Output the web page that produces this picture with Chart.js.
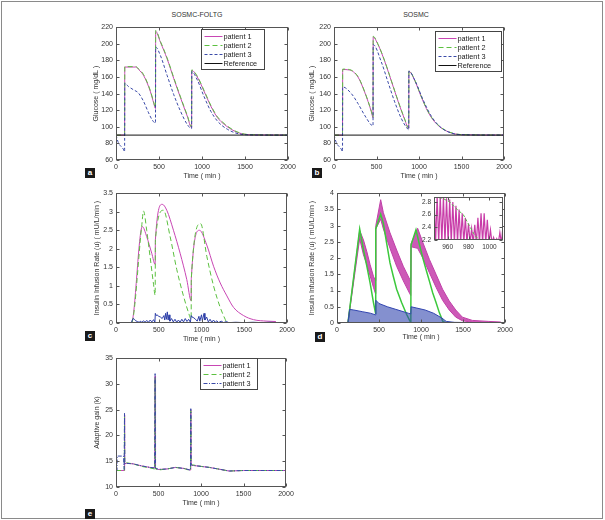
<!DOCTYPE html>
<html>
<head>
<meta charset="utf-8">
<script src="https://cdn.jsdelivr.net/npm/chart.js@4.4.1/dist/chart.umd.min.js"></script>
<style>
  html, body { margin: 0; padding: 0; background: #fff; }
  #fig { position: relative; width: 605px; height: 520px; overflow: hidden; font-family: "Liberation Sans", Arial, sans-serif; }
  #frame { position: absolute; left: 1px; top: 1px; width: 602px; height: 518px; box-sizing: border-box; border: 1px solid #8a8a8a; }
  canvas { position: absolute; }
  .title { position: absolute; font-size: 7px; color: #333; transform: translateX(-50%); white-space: nowrap; }
  .tag { position: absolute; width: 10px; height: 10px; background: #1a1a1a; color: #fff; font-size: 8px; font-weight: bold; line-height: 10px; text-align: center; }
</style>
</head>
<body>
<div id="fig">
  <div id="frame"></div>
  <div class="title" style="left:197px;top:11px">SOSMC-FOLTG</div>
  <div class="title" style="left:416px;top:11px">SOSMC</div>
  <canvas id="chartA" width="208" height="160" style="left:92px;top:20px"></canvas>
  <canvas id="chartB" width="208" height="160" style="left:308px;top:20px"></canvas>
  <canvas id="chartC" width="206" height="157" style="left:93px;top:186px"></canvas>
  <canvas id="chartD" width="209" height="155" style="left:308px;top:186px"></canvas>
  <canvas id="chartInset" width="89" height="60" style="left:418px;top:190px"></canvas>
  <canvas id="chartE" width="205" height="156" style="left:93px;top:351px"></canvas>
  <div class="tag" style="left:85px;top:168px">a</div>
  <div class="tag" style="left:312px;top:168px">b</div>
  <div class="tag" style="left:85px;top:331px">c</div>
  <div class="tag" style="left:315px;top:332px">d</div>
  <div class="tag" style="left:85px;top:509px">e</div>
</div>
<script>
// ---- tick labels ----
const timeTicks = [0, 500, 1000, 1500, 2000];
const glucoseTicks = [60, 80, 100, 120, 140, 160, 180, 200, 220];
const insulinTicksC = [0, 0.5, 1, 1.5, 2, 2.5, 3, 3.5];
const insulinTicksD = [0, 0.5, 1, 1.5, 2, 2.5, 3, 3.5, 4];
const gainTicks = [10, 15, 20, 25, 30, 35];
const insetTimeTicks = [960, 980, 1000];
const insetRateTicks = [2.2, 2.4, 2.6, 2.8];

// ---- reference glucose ----
const refTime = [0, 2000];
const reference = [90, 90];

// ---- panel a: glucose, SOSMC-FOLTG ----
const aTime12 = [0, 100, 102, 230, 262, 320, 398, 440, 459, 461, 516, 594, 672, 750, 828, 879, 881, 945, 1023, 1102, 1180, 1258, 1375, 1492, 1600, 2000];
const aPatient1 = [90, 90, 172, 172, 169, 162, 143, 128, 122, 215, 202, 182, 158, 135, 113, 99, 168, 160, 143, 125, 111, 103, 95, 91, 90.3, 90];
const aPatient2 = [90, 90, 172.5, 172.5, 170, 163, 144, 129, 123, 216, 203, 183, 159, 136, 114, 100, 168.5, 161, 144, 126, 112, 104, 95.5, 91.3, 90.5, 90];
const aTime3 = [0, 27, 86, 100, 102, 145, 203, 262, 320, 379, 418, 459, 461, 516, 594, 672, 750, 828, 879, 881, 945, 1023, 1102, 1180, 1297, 1453, 1600, 2000];
const aPatient3 = [90, 81, 73, 70, 152.5, 148.5, 144.6, 140.6, 130.7, 116.8, 108.8, 104.5, 196, 186, 162, 138.6, 118.8, 102.9, 97.8, 166.4, 156.5, 136.6, 118.8, 106.8, 96.9, 91, 90.2, 90];

// ---- panel b: glucose, SOSMC ----
const bTime12 = [0, 100, 102, 180, 282, 360, 440, 459, 461, 518, 596, 675, 753, 831, 879, 881, 949, 1027, 1106, 1184, 1302, 1498, 2000];
const bPatient1 = [90, 90, 169, 168.5, 160, 142, 118, 111, 208, 199, 179, 155, 131, 109, 98, 167, 156, 136, 118, 106, 96, 90.5, 90];
const bPatient2 = [90, 90, 169.5, 169, 160.5, 142.5, 118.5, 111.5, 209, 199.5, 179.5, 155.5, 131.5, 109.5, 98.5, 167.5, 156.5, 136.5, 118.5, 106.5, 96.3, 90.6, 90];
const bTime3 = [0, 27, 86, 100, 102, 204, 282, 360, 440, 459, 461, 557, 635, 714, 792, 870, 879, 881, 960, 1050, 1150, 1260, 1380, 1500, 2000];
const bPatient3 = [90, 81, 73, 70, 148, 140, 128, 114, 102, 101, 199, 178, 154, 130, 110, 97, 96.5, 167, 154, 132, 112, 99, 92.5, 90.5, 90];

// ---- panel c: insulin infusion rate, SOSMC-FOLTG ----
const cTime1 = [0, 180, 308, 359, 418, 458, 461, 541, 594, 672, 750, 828, 879, 881, 977, 1062, 1141, 1219, 1297, 1375, 1492, 1609, 1766, 1870];
const cPatient1 = [0, 0, 2.6, 2.33, 1.88, 1.58, 2.25, 3.2, 3.04, 2.5, 1.88, 1.17, 0.6, 1.2, 2.5, 2.1, 1.53, 1.08, 0.73, 0.42, 0.2, 0.09, 0.05, 0.04];
const cTime2 = [0, 180, 300, 322, 359, 398, 437, 458, 461, 555, 633, 711, 789, 848, 879, 881, 990, 1062, 1141, 1219, 1277, 1300, 2000];
const cPatient2 = [0, 0, 2.6, 3.02, 2.5, 1.8, 1.08, 0.75, 2.25, 3.04, 2.33, 1.44, 0.73, 0.28, 0.1, 1.2, 2.68, 1.8, 1.0, 0.42, 0.1, 0, 0];
const cTime3 = [0, 180, 190, 200, 215, 230, 250, 270, 290, 300, 320, 340, 360, 380, 400, 420, 440, 455, 460, 470, 480, 500, 520, 540, 560, 570, 580, 590, 600, 610, 620, 630, 650, 670, 690, 710, 730, 750, 770, 790, 810, 830, 850, 870, 880, 890, 910, 930, 950, 970, 980, 1000, 1010, 1030, 1040, 1060, 1080, 1100, 1120, 1140, 1160, 1180, 1200, 1230, 1260, 1290, 1320, 1400, 1500, 1600, 1700, 1800, 2000];
const cPatient3 = [0, 0, 0.08, 0.12, 0.1, 0.06, 0.04, 0.02, 0.05, 0.01, 0.06, 0.02, 0.07, 0.02, 0.08, 0.03, 0.09, 0.02, 0.26, 0.2, 0.22, 0.18, 0.16, 0.12, 0.2, 0.08, 0.26, 0.1, 0.3, 0.08, 0.22, 0.05, 0.12, 0.03, 0.1, 0.02, 0.08, 0.02, 0.1, 0.03, 0.12, 0.04, 0.1, 0.02, 0.2, 0.16, 0.14, 0.1, 0.05, 0.18, 0.05, 0.22, 0.06, 0.26, 0.08, 0.16, 0.03, 0.1, 0.02, 0.08, 0.02, 0.06, 0.01, 0.05, 0.01, 0.04, 0.01, 0.02, 0.01, 0.02, 0.01, 0.02, 0];

// ---- panel d: insulin infusion rate, SOSMC (chattering bands) ----
const dTime1 = [0, 130, 270, 315, 355, 394, 434, 458, 462, 520, 552, 631, 710, 789, 867, 878, 882, 960, 1022, 1100, 1179, 1257, 1336, 1414, 1493, 1611, 1800, 1950];
const dPatient1High = [0, 0, 2.85, 2.56, 2.2, 1.8, 1.44, 1.3, 3.0, 3.8, 3.4, 2.78, 2.25, 1.75, 1.34, 1.28, 2.45, 2.92, 2.48, 1.96, 1.5, 1.04, 0.68, 0.4, 0.18, 0.08, 0.05, 0.03];
const dPatient1Low = [0, 0, 2.6, 2.1, 1.8, 1.45, 1.1, 0.9, 2.9, 3.2, 2.9, 2.3, 1.75, 1.3, 0.9, 0.85, 2.35, 2.3, 2.0, 1.55, 1.1, 0.7, 0.4, 0.18, 0.07, 0.02, 0, 0];
const dTime2 = [0, 130, 270, 315, 355, 394, 434, 459, 461, 520, 552, 591, 631, 670, 710, 769, 828, 870, 879, 881, 940, 983, 1022, 1061, 1100, 1139, 1179, 1218, 1260, 1300, 2000];
const dPatient2 = [0, 0, 2.9, 2.25, 1.75, 1.24, 0.63, 0.3, 2.9, 3.35, 3.07, 2.46, 1.85, 1.44, 1.04, 0.63, 0.27, 0.05, 0.03, 2.4, 2.87, 2.4, 2.0, 1.64, 1.29, 0.93, 0.63, 0.32, 0.05, 0, 0];
const dTime3 = [0, 130, 150, 200, 300, 400, 458, 462, 500, 600, 700, 850, 878, 882, 950, 1050, 1150, 1250, 1300, 1400, 2000];
const dPatient3High = [0, 0, 0.42, 0.4, 0.35, 0.3, 0.25, 0.7, 0.6, 0.5, 0.42, 0.3, 0.28, 0.5, 0.46, 0.4, 0.3, 0.15, 0.05, 0.02, 0];
const dPatient3Low = [0, 0, 0, 0, 0, 0, 0, 0, 0, 0, 0, 0, 0, 0, 0, 0, 0, 0, 0, 0, 0];

// ---- inset of panel d ----
const insetTime = [947, 948.5, 950, 951.5, 953, 954.5, 956, 957.5, 959, 960.5, 962, 963.5, 965, 966.5, 968, 969.5, 971, 972.5, 974, 975.5, 977, 978.5, 980, 981.5, 983, 984.5, 986, 987.5, 989, 990.5, 992, 993.5, 995, 996.5, 998, 999.5, 1001, 1002.5, 1004, 1005.5, 1007, 1008.5, 1010, 1011.5, 1013];
const insetPatient1 = [2.9, 2.15, 2.9, 2.15, 2.9, 2.15, 2.88, 2.15, 2.86, 2.15, 2.84, 2.15, 2.8, 2.15, 2.74, 2.15, 2.68, 2.15, 2.62, 2.15, 2.55, 2.15, 2.46, 2.15, 2.38, 2.15, 2.44, 2.15, 2.55, 2.15, 2.62, 2.15, 2.62, 2.15, 2.52, 2.15, 2.36, 2.15, 2.24, 2.15, 2.22, 2.15, 2.32, 2.15, 2.42];
const insetTime2 = [947, 955, 962, 968, 975, 980, 985, 990];
const insetPatient2 = [2.88, 2.86, 2.8, 2.7, 2.6, 2.45, 2.3, 2.2];

// ---- panel e: adaptive gain ----
const eTime12 = [0, 98, 100, 103, 120, 200, 300, 400, 455, 460, 465, 500, 600, 700, 800, 870, 876, 880, 884, 900, 1000, 1100, 1200, 1330, 1500, 2000];
const ePatient1 = [13.2, 13.2, 24, 14.5, 14.6, 14.5, 14.1, 13.8, 13.7, 31.5, 13.6, 13.4, 13.5, 13.8, 13.6, 13.3, 13.3, 25, 14.3, 14.2, 14.0, 13.8, 13.5, 13.1, 13.2, 13.2];
const ePatient2 = [13.2, 13.2, 23.8, 14.6, 14.7, 14.5, 14.0, 13.7, 13.5, 31.2, 13.5, 13.3, 13.5, 13.8, 13.6, 13.2, 13.2, 24.8, 14.4, 14.3, 14.0, 13.8, 13.5, 13.1, 13.2, 13.2];
const eTime3 = [0, 12, 14, 88, 96, 100, 103, 120, 200, 300, 400, 455, 460, 465, 500, 600, 700, 800, 870, 876, 880, 884, 900, 1000, 1100, 1200, 1330, 1500, 2000];
const ePatient3 = [13.2, 13.2, 16, 16, 13.4, 24.3, 14.5, 14.6, 14.5, 14.1, 13.8, 13.7, 32, 13.7, 13.4, 13.5, 13.8, 13.6, 13.3, 13.3, 25.2, 14.3, 14.2, 14.0, 13.8, 13.5, 13.1, 13.2, 13.2];

// colours
const MAGENTA = "#c846b4";
const GREEN = "#5cc040";
const BLUE = "#3a4aa8";
const BLACK = "#111111";

Chart.defaults.font.family = '"Liberation Sans", Arial, sans-serif';
Chart.defaults.font.size = 7;
Chart.defaults.color = "#333";
Chart.defaults.animation = false;

// matlab style box with inward ticks on all four sides
const boxAxes = {
  id: "boxAxes",
  beforeDatasetsDraw(chart, args, opts) {
    if (!opts.fillWhite) return;
    const a = chart.chartArea;
    chart.ctx.save();
    chart.ctx.fillStyle = "#fff";
    chart.ctx.fillRect(a.left, a.top, a.right - a.left, a.bottom - a.top);
    chart.ctx.restore();
  },
  afterDatasetsDraw(chart) {
    const { ctx, chartArea: a, scales } = chart;
    const len = 3;
    ctx.save();
    ctx.strokeStyle = "#555";
    ctx.lineWidth = 1;
    ctx.setLineDash([]);
    const L = Math.round(a.left) + 0.5, R = Math.round(a.right) - 0.5;
    const T = Math.round(a.top) + 0.5, B = Math.round(a.bottom) - 0.5;
    ctx.strokeRect(L, T, R - L, B - T);
    ctx.beginPath();
    scales.x.ticks.forEach((t) => {
      const px = Math.round(scales.x.getPixelForValue(t.value)) + 0.5;
      ctx.moveTo(px, B); ctx.lineTo(px, B - len);
      ctx.moveTo(px, T); ctx.lineTo(px, T + len);
    });
    scales.y.ticks.forEach((t) => {
      const py = Math.round(scales.y.getPixelForValue(t.value)) + 0.5;
      ctx.moveTo(L, py); ctx.lineTo(L + len, py);
      ctx.moveTo(R, py); ctx.lineTo(R - len, py);
    });
    ctx.stroke();
    ctx.restore();
  },
};

// boxed legend inside the plot area
const boxLegend = {
  id: "boxLegend",
  afterDraw(chart, args, opts) {
    if (!opts.w) return;
    const { ctx, chartArea: a } = chart;
    const items = chart.data.datasets.filter((d) => d.label);
    const x0 = Math.round(a.left + opts.x) + 0.5;
    const y0 = Math.round(a.top + opts.y) + 0.5;
    const h = 7 + (items.length - 1) * 9 + 6;
    ctx.save();
    ctx.fillStyle = "#fff";
    ctx.fillRect(x0, y0, opts.w, h);
    ctx.strokeStyle = "#444";
    ctx.lineWidth = 1;
    ctx.strokeRect(x0, y0, opts.w, h);
    ctx.font = '7.3px "Liberation Sans", Arial, sans-serif';
    ctx.textBaseline = "middle";
    items.forEach((d, i) => {
      const yy = y0 + 7 + i * 9;
      ctx.setLineDash(d.borderDash || []);
      ctx.strokeStyle = d.borderColor;
      ctx.beginPath();
      ctx.moveTo(x0 + 3, yy);
      ctx.lineTo(x0 + 21, yy);
      ctx.stroke();
      ctx.setLineDash([]);
      ctx.fillStyle = "#222";
      ctx.fillText(d.label, x0 + 22, yy + 0.5);
    });
    ctx.restore();
  },
};

function pts(t, v) {
  return t.map((x, i) => ({ x, y: v[i] }));
}

function series(label, t, v, color, dash, extra) {
  return Object.assign({
    label,
    data: pts(t, v),
    borderColor: color,
    backgroundColor: color,
    borderWidth: 1,
    borderDash: dash || [],
    pointRadius: 0,
    fill: false,
    tension: 0,
  }, extra || {});
}

const plain = (v) => String(v);

function axisX(min, max, ticks, title, height, size) {
  return {
    type: "linear", min, max,
    grid: { display: false, drawTicks: false }, border: { display: false },
    ticks: { padding: 3, maxRotation: 0, autoSkip: false, font: { size: size || 7 }, callback: plain },
    afterBuildTicks: (s) => { s.ticks = ticks.map((value) => ({ value })); },
    afterFit: (s) => { s.height = height; },
    title: title ? { display: true, text: title, padding: 0, font: { size: 7 } } : { display: false },
  };
}

function axisY(min, max, ticks, title, width, size) {
  return {
    type: "linear", min, max,
    grid: { display: false, drawTicks: false }, border: { display: false },
    ticks: { padding: 3, autoSkip: false, font: { size: size || 7 }, callback: plain },
    afterBuildTicks: (s) => { s.ticks = ticks.map((value) => ({ value })); },
    afterFit: (s) => { s.width = width; },
    title: title ? { display: true, text: title, padding: 0, font: { size: 7 } } : { display: false },
  };
}

function makeChart(id, datasets, x, y, pad, legend, fillWhite) {
  return new Chart(document.getElementById(id), {
    type: "line",
    data: { datasets },
    options: {
      responsive: false,
      animation: false,
      layout: { padding: { top: pad.top, right: pad.right, left: 0, bottom: 0 } },
      scales: { x, y },
      plugins: {
        legend: { display: false },
        tooltip: { enabled: false },
        boxLegend: legend || {},
        boxAxes: { fillWhite: !!fillWhite },
      },
    },
    plugins: [boxAxes, boxLegend],
  });
}

const smooth = { cubicInterpolationMode: "monotone" };

// a
makeChart("chartA", [
  series("patient 1", aTime12, aPatient1, MAGENTA, [], Object.assign({ order: 3 }, smooth)),
  series("patient 2", aTime12, aPatient2, GREEN, [5, 3], Object.assign({ order: 2 }, smooth)),
  series("patient 3", aTime3, aPatient3, BLUE, [3, 2], Object.assign({ order: 1 }, smooth)),
  series("Reference", refTime, reference, BLACK, [], { order: 0 }),
], axisX(0, 2000, timeTicks, "Time ( min )", 20), axisY(60, 220, glucoseTicks, "Glucose ( mg/dL )", 24),
  { top: 6, right: 12 }, { x: 85, y: 2, w: 63 });

// b
makeChart("chartB", [
  series("patient 1", bTime12, bPatient1, MAGENTA, [], Object.assign({ order: 3 }, smooth)),
  series("patient 2", bTime12, bPatient2, GREEN, [5, 3], Object.assign({ order: 2 }, smooth)),
  series("patient 3", bTime3, bPatient3, BLUE, [3, 2], Object.assign({ order: 1 }, smooth)),
  series("Reference", refTime, reference, BLACK, [], { order: 0 }),
], axisX(0, 2000, timeTicks, "Time ( min )", 20), axisY(60, 220, glucoseTicks, "Glucose ( mg/dL )", 26),
  { top: 6, right: 12 }, { x: 101, y: 4, w: 66 });

// c
makeChart("chartC", [
  series("", cTime1, cPatient1, MAGENTA, [], Object.assign({ order: 3 }, smooth)),
  series("", cTime2, cPatient2, GREEN, [5, 3], Object.assign({ order: 2 }, smooth)),
  series("", cTime3, cPatient3, "#2c3ea8", [], { order: 1 }),
], axisX(0, 2000, timeTicks, "Time ( min )", 20), axisY(0, 3.5, insulinTicksC, "Insulin Infusion Rate (u) ( mU/L/min )", 23),
  { top: 6, right: 12 });

// d
makeChart("chartD", [
  series("", dTime1, dPatient1Low, "#c040a8", [], { order: 4 }),
  series("", dTime1, dPatient1High, "#c040a8", [], { order: 4, fill: "-1", backgroundColor: "rgba(196,60,170,0.85)" }),
  series("", dTime2, dPatient2, "#3cc83c", [], { order: 2, borderWidth: 1.5 }),
  series("", dTime3, dPatient3Low, "#2c3ea8", [], { order: 1 }),
  series("", dTime3, dPatient3High, "#3346b0", [], { order: 1, fill: "-1", backgroundColor: "rgba(50,70,175,0.6)" }),
], axisX(0, 2000, timeTicks, "Time ( min )", 18), axisY(0, 4, insulinTicksD, "Insulin Infusion Rate (u) ( mU/L/min )", 29),
  { top: 6, right: 12 });

// inset of d
makeChart("chartInset", [
  series("", insetTime, insetPatient1, "#c83ca8", [], { order: 2, borderWidth: 1.2 }),
  series("", insetTime2, insetPatient2, "#58b848", [3, 2], { order: 1 }),
], axisX(947, 1013, insetTimeTicks, "", 10, 6.5), axisY(2.2, 2.88, insetRateTicks, "", 16, 6.5),
  { top: 5, right: 4 }, null, true);

// e
makeChart("chartE", [
  series("patient 1", eTime12, ePatient1, MAGENTA, [], { order: 3 }),
  series("patient 2", eTime12, ePatient2, GREEN, [5, 3], { order: 2 }),
  series("patient 3", eTime3, ePatient3, BLUE, [4, 1.5, 1, 1.5], { order: 1 }),
], axisX(0, 2000, timeTicks, "Time ( min )", 20), axisY(10, 35, gainTicks, "Adaptive gain (k)", 23),
  { top: 6, right: 12 }, { x: 84, y: 0, w: 57 });
</script>
</body>
</html>
